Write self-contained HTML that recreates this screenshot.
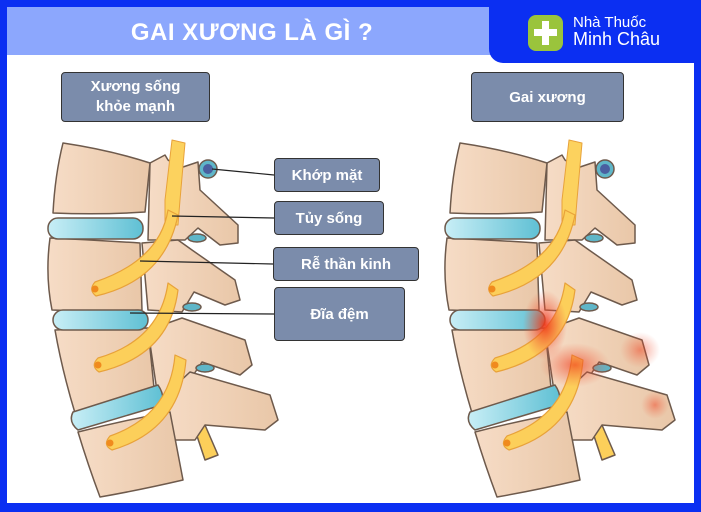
<!DOCTYPE html>
<html><head><meta charset="utf-8"><style>
html,body{margin:0;padding:0}
body{width:701px;height:512px;position:relative;overflow:hidden;background:#0b2ff2;font-family:"Liberation Sans",sans-serif}
.inner{position:absolute;left:7px;top:7px;width:687px;height:496px;background:#fff}
.hd{position:absolute;left:7px;top:7px;width:490px;height:48px;background:#8ca7fd}
.hd span{position:absolute;left:0;width:490px;text-align:center;top:12px;color:#fff;font-weight:bold;font-size:24px;letter-spacing:0.5px}
.logo{position:absolute;left:489px;top:0;width:212px;height:63px;background:#0b2ff2;border-bottom-left-radius:14px}
.box{position:absolute;background:#7b8cab;border:1.5px solid #333;border-radius:4px;color:#fff;font-weight:bold;display:flex;align-items:center;justify-content:center;text-align:center;box-sizing:border-box}
</style></head><body>
<div class="inner"></div>
<div class="hd"><span>GAI XƯƠNG LÀ GÌ ?</span></div>
<div class="logo">
 <div style="position:absolute;left:39px;top:15px;width:35px;height:36px;background:#9ac43c;border-radius:8px"></div>
 <div style="position:absolute;left:53px;top:21px;width:7px;height:24px;background:#fff"></div>
 <div style="position:absolute;left:45px;top:29px;width:23px;height:7px;background:#fff"></div>
 <div style="position:absolute;left:84px;top:14px;color:#fff;font-size:15px;line-height:17px">Nhà Thuốc<br><span style="font-size:18px">Minh Châu</span></div>
</div>
<div class="box" style="left:61px;top:72px;width:149px;height:50px;font-size:15px;line-height:20px">Xương sống<br>khỏe mạnh</div>
<div class="box" style="left:471px;top:72px;width:153px;height:50px;font-size:15px">Gai xương</div>
<div class="box" style="left:274px;top:158px;width:106px;height:34px;font-size:15px">Khớp mặt</div>
<div class="box" style="left:274px;top:201px;width:110px;height:34px;font-size:15px">Tủy sống</div>
<div class="box" style="left:273px;top:247px;width:146px;height:34px;font-size:15px">Rễ thần kinh</div>
<div class="box" style="left:274px;top:287px;width:131px;height:54px;font-size:15px">Đĩa đệm</div>
<svg width="701" height="512" style="position:absolute;left:0;top:0" xmlns="http://www.w3.org/2000/svg">
<defs>
<linearGradient id="bn" x1="0" x2="1"><stop offset="0" stop-color="#f6dcc6"/><stop offset="1" stop-color="#e9c7a8"/></linearGradient>
<linearGradient id="ds" x1="0" x2="1"><stop offset="0" stop-color="#c8eef6"/><stop offset="1" stop-color="#5fc0d4"/></linearGradient>
<radialGradient id="rd"><stop offset="0" stop-color="#f03a1a" stop-opacity="0.95"/><stop offset="1" stop-color="#f06040" stop-opacity="0"/></radialGradient>
<g id="sp" stroke="#6e5a4c" stroke-width="1.5" stroke-linejoin="round">
 <path d="M205,460 L195,430 L205,425 L218,455 Z" fill="#fccf5a"/>
 <!-- posterior -->
 <g fill="url(#bn)">
 <path d="M150,163 L165,155 L168,160 L180,168 L198,162 L200,190 L238,225 L238,243 L220,245 L198,228 L185,240 L148,240 Z"/>
 <path d="M142,243 L178,240 L192,250 L235,280 L240,300 L225,305 L194,292 L182,312 L148,310 Z"/>
 <path d="M148,330 L182,318 L245,340 L252,365 L240,375 L202,362 L190,380 L158,398 Z"/>
 <path d="M160,400 L190,372 L270,395 L278,420 L265,430 L205,425 L195,440 L175,440 Z"/>
 </g>
 <!-- cord -->
 <path d="M172,140 L185,143 L180,200 L178,225 L165,225 L165,200 Z" fill="#fcd25e" stroke="#e8a23a" stroke-width="1"/>
 <!-- bodies -->
 <path d="M63,143 Q110,150 150,163 L145,212 Q100,215 53,213 Q55,175 63,143 Z" fill="url(#bn)"/>
 <path d="M50,238 Q95,240 140,243 L142,310 Q95,312 52,310 Q45,275 50,238 Z" fill="url(#bn)"/>
 <path d="M55,330 Q100,328 148,328 L155,398 Q115,405 75,413 Q62,370 55,330 Z" fill="url(#bn)"/>
 <path d="M78,432 Q125,420 170,412 L183,480 Q140,490 100,497 Q88,465 78,432 Z" fill="url(#bn)"/>
 <!-- discs -->
 <rect x="48" y="218" width="95" height="21" rx="10" fill="url(#ds)"/>
 <rect x="53" y="310" width="95" height="20" rx="10" fill="url(#ds)"/>
 <path d="M73,412 L158,385 Q165,395 162,405 L78,430 Q68,422 73,412 Z" fill="url(#ds)"/>
 <!-- facets -->
 <circle cx="208" cy="169" r="9" fill="#5fb6c8"/><circle cx="208" cy="169" r="5" fill="#4a5fa0" stroke="none"/>
 <ellipse cx="197" cy="238" rx="9" ry="4" fill="#5fb6c8"/>
 <ellipse cx="192" cy="307" rx="9" ry="4" fill="#5fb6c8"/>
 <ellipse cx="205" cy="368" rx="9" ry="4" fill="#5fb6c8"/>
 <!-- roots -->
 <g fill="#fccf5a" stroke="#e8a23a" stroke-width="1.2">
 <path d="M168,210 Q160,260 95,282 Q88,290 96,296 Q165,280 178,215 Z"/>
 <path d="M168,283 Q160,340 98,358 Q90,366 99,372 Q170,355 178,290 Z"/>
 <path d="M175,355 Q170,415 110,436 Q102,445 112,450 Q180,430 186,360 Z"/>
 </g>
 <g fill="#f08a1e" stroke="none"><circle cx="95" cy="289" r="3.5"/><circle cx="98" cy="365" r="3.5"/><circle cx="110" cy="443" r="3.5"/></g>
</g>
</defs>
<use href="#sp"/>
<use href="#sp" transform="translate(397,0)"/>
<ellipse cx="545" cy="325" rx="22" ry="35" fill="url(#rd)"/>
<ellipse cx="575" cy="365" rx="35" ry="22" fill="url(#rd)" opacity="0.7"/>
<ellipse cx="640" cy="350" rx="20" ry="18" fill="url(#rd)" opacity="0.5"/>
<ellipse cx="655" cy="405" rx="14" ry="14" fill="url(#rd)" opacity="0.5"/>
<g stroke="#222" stroke-width="1.2">
<line x1="212" y1="169" x2="274" y2="175"/>
<line x1="172" y1="216" x2="274" y2="218"/>
<line x1="140" y1="261" x2="273" y2="264"/>
<line x1="130" y1="313" x2="274" y2="314"/>
</g>
</svg>
</body></html>
